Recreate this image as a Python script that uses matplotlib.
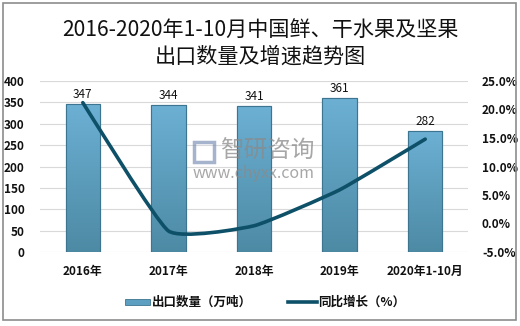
import numpy as np
import matplotlib
matplotlib.use("Agg")
import matplotlib.pyplot as plt
from matplotlib.path import Path
from matplotlib.patches import PathPatch, Rectangle

plt.rcParams['font.family'] = ['Noto Sans CJK SC', 'DejaVu Sans']

# export volume (10k tons) and year-on-year growth (%)
years = ['2016年', '2017年', '2018年', '2019年', '2020年1-10月']
volume = [347, 344, 341, 361, 282]
growth = [21.2, -1.3, -0.4, 5.9, 14.8]

BAR_TOP = '#6cb0d4'
BAR_BOTTOM = '#4d8aa4'
BAR_EDGE = '#3d7590'
LINE_COLOR = '#0d5068'


def smooth_path(xs, ys, tension=0.07):
    """Bezier path through the points, a lightly smoothed line."""
    pts = np.column_stack([xs, ys]).astype(float)
    verts = [pts[0]]
    codes = [Path.MOVETO]
    n = len(pts)
    for i in range(n - 1):
        p0 = pts[i - 1] if i > 0 else pts[i]
        p1, p2 = pts[i], pts[i + 1]
        p3 = pts[i + 2] if i + 2 < n else pts[i + 1]
        c1 = p1 + (p2 - p0) * tension
        c2 = p2 - (p3 - p1) * tension
        verts += [c1, c2, p2]
        codes += [Path.CURVE4] * 3
    return Path(verts, codes)


fig = plt.figure(figsize=(5.2, 3.26), dpi=100)
fig.patches.append(Rectangle((3 / 520, 6 / 326), 513 / 520, 317 / 326,
                             transform=fig.transFigure, fill=False,
                             edgecolor='#8c8c8c', linewidth=1.2))

fig.text(0.5, 1 - 30 / 326, '2016-2020年1-10月中国鲜、干水果及坚果',
         ha='center', va='center', fontsize=15.2, color='#111111')
fig.text(0.5, 1 - 57 / 326, '出口数量及增速趋势图',
         ha='center', va='center', fontsize=15.2, color='#111111')

ax = fig.add_axes([40 / 520, 1 - 252 / 326, 428 / 520, 171 / 326])
x = np.arange(len(years))
ax.set_xlim(-0.5, len(years) - 0.5)
ax.set_ylim(0, 400)
ax.set_yticks(np.arange(0, 401, 50))
ax.grid(axis='y', color='#d9d9d9', linewidth=0.8)
ax.set_axisbelow(True)
for s in ax.spines.values():
    s.set_visible(False)
ax.tick_params(length=0, labelsize=8.5, colors='#111111')
ax.tick_params(axis='y', pad=11)
for lab in ax.get_yticklabels():
    lab.set_fontweight('bold')
ax.set_xticks(x)
ax.set_xticklabels(years, fontsize=8.5, fontweight='bold')
ax.tick_params(axis='x', pad=9)

bars = ax.bar(x, volume, width=0.4, color=BAR_BOTTOM, edgecolor=BAR_EDGE,
              linewidth=0.8, zorder=2)
# vertical gradient fill, lighter at the top
grad = np.linspace(0, 1, 256).reshape(-1, 1)
cmap = matplotlib.colors.LinearSegmentedColormap.from_list('bar', [BAR_BOTTOM, BAR_TOP])
for b in bars:
    x0, w, h = b.get_x(), b.get_width(), b.get_height()
    im = ax.imshow(grad, cmap=cmap, origin='lower', aspect='auto',
                   extent=(x0, x0 + w, 0, h), zorder=2.1)
    im.set_clip_path(b)
    ax.add_patch(Rectangle((x0, 0), w, h, fill=False, edgecolor=BAR_EDGE,
                           linewidth=0.8, zorder=2.2))
    ax.text(b.get_x() + w / 2, h + 7, f'{h:.0f}', ha='center', va='bottom',
            fontsize=8.5, color='#111111', zorder=3)

ax2 = ax.twinx()
ax2.set_ylim(-5, 25)
ax2.set_yticks(np.arange(-5, 26, 5))
ax2.set_yticklabels([f'{v:.1f}%' for v in np.arange(-5, 26, 5)])
for s in ax2.spines.values():
    s.set_visible(False)
ax2.tick_params(length=0, labelsize=8.5, colors='#111111', pad=10)
for lab in ax2.get_yticklabels():
    lab.set_fontweight('bold')
ax2.add_patch(PathPatch(smooth_path(x, growth), fill=False, edgecolor=LINE_COLOR,
                        linewidth=2.6, capstyle='round', joinstyle='round', zorder=4))

# watermark
fig.text(220 / 520, 1 - 151 / 326, '智研咨询', fontsize=17, color='#8a8a8a',
         alpha=0.75, va='center', ha='left')
fig.text(193 / 520, 1 - 174 / 326, 'www.chyxx.com', fontsize=11.5, color='#8a8a8a',
         alpha=0.75, va='center', ha='left')
fig.patches.append(Rectangle((194 / 520, 1 - 162 / 326), 20 / 520, 20 / 326,
                             transform=fig.transFigure, fill=False,
                             edgecolor='#7f93b8', linewidth=2.5, alpha=0.7))

# legend
ly = 1 - 302 / 326
fig.patches.append(Rectangle((125 / 520, ly - 3 / 326), 25 / 520, 6 / 326,
                             transform=fig.transFigure, facecolor='#5d9fc0',
                             edgecolor=BAR_EDGE, linewidth=0.6))
fig.text(152 / 520, ly, '出口数量（万吨）', fontsize=9,
         fontweight='bold', va='center', ha='left', color='#111111')
fig.lines.append(plt.Line2D([288 / 520, 317 / 520], [ly, ly],
                            transform=fig.transFigure, color=LINE_COLOR, linewidth=2.6))
fig.text(318 / 520, ly, '同比增长（%）', fontsize=9,
         fontweight='bold', va='center', ha='left', color='#111111')

fig.savefig('out.png', dpi=100)
